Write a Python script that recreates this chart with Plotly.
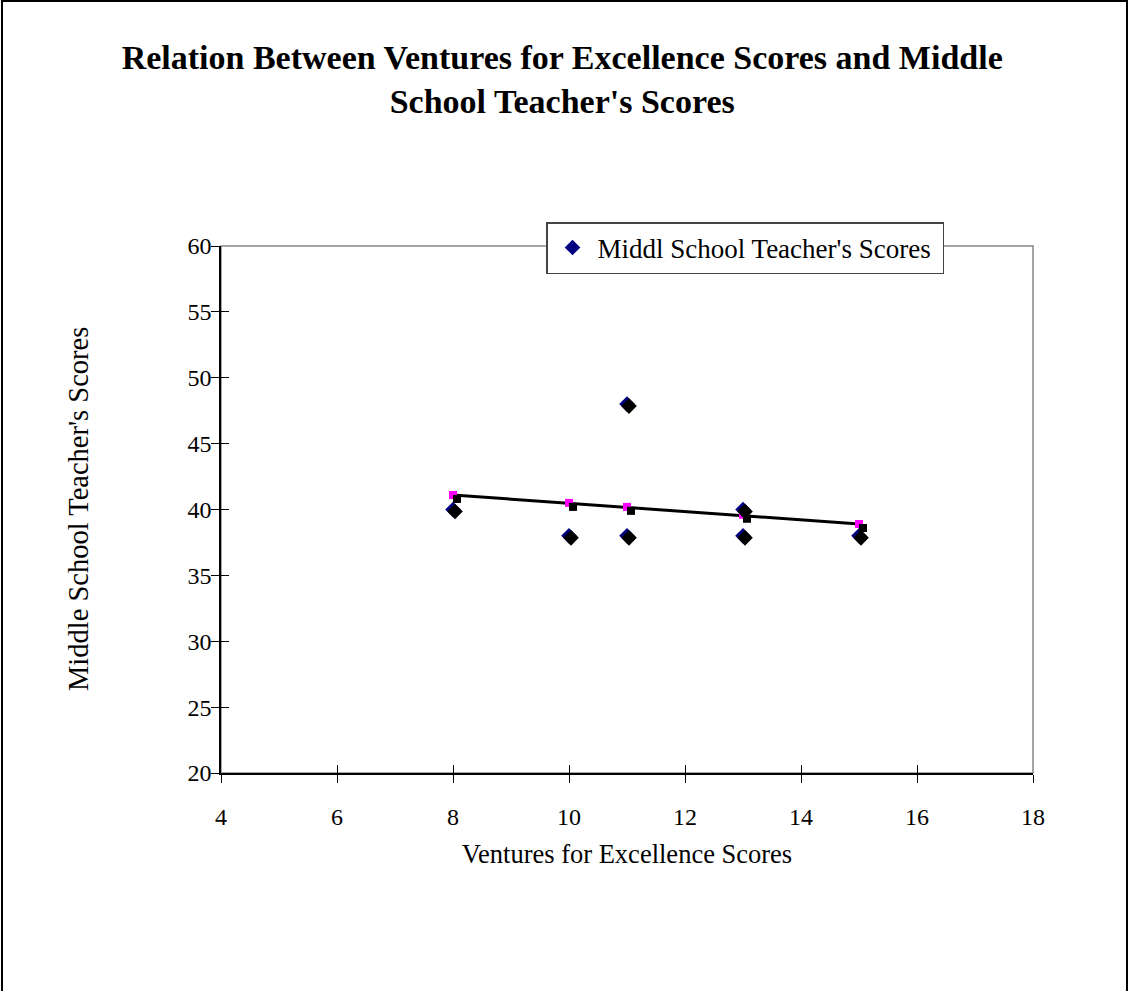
import plotly.graph_objects as go

# ---- data ----
ventures_scores = [8, 10, 11, 11, 13, 13, 15]
teacher_scores = [40, 38, 38, 48, 40, 38, 38]
predicted_x = [8, 10, 11, 13, 15]
predicted_y = [41.1, 40.5, 40.2, 39.6, 38.9]
trend_x = [8, 15]
trend_y = [41.1, 38.9]
x_ticks = [4, 6, 8, 10, 12, 14, 16, 18]
y_ticks = [20, 25, 30, 35, 40, 45, 50, 55, 60]

W, H = 1129, 991
L, R, T, B = 221, 1033, 246, 773
pw, ph = R - L, B - T
XR = [4, 18]
YR = [20, 60]
xpx = (XR[1] - XR[0]) / pw
ypx = (YR[1] - YR[0]) / ph

FONT = "Liberation Serif, Times New Roman, serif"

fig = go.Figure()

# shadows on shifted axes (offset a few pixels right/down)
fig.add_trace(go.Scatter(x=predicted_x, y=predicted_y, mode="markers",
                         marker=dict(symbol="square", size=8, color="black"),
                         xaxis="x3", yaxis="y3", showlegend=False, hoverinfo="skip"))
fig.add_trace(go.Scatter(x=ventures_scores, y=teacher_scores, mode="markers",
                         marker=dict(symbol="diamond", size=12, color="black"),
                         xaxis="x4", yaxis="y4", showlegend=False, hoverinfo="skip"))

fig.add_trace(go.Scatter(x=trend_x, y=trend_y, mode="lines",
                         line=dict(color="black", width=3), showlegend=False))
fig.add_trace(go.Scatter(x=predicted_x, y=predicted_y, mode="markers",
                         marker=dict(symbol="square", size=8, color="#FF00FF"),
                         showlegend=False))
fig.add_trace(go.Scatter(x=ventures_scores, y=teacher_scores, mode="markers",
                         name="Middl School Teacher's Scores\u00a0",
                         marker=dict(symbol="diamond", size=12, color="#000080")))

axis_common = dict(showgrid=False, zeroline=False, linecolor="black", linewidth=1.5,
                   ticks="outside", ticklen=8, tickwidth=1, tickcolor="black",
                   tickfont=dict(family=FONT, size=24, color="black"))

fig.update_layout(
    width=W, height=H,
    margin=dict(l=L, r=W - R, t=T, b=H - B, pad=0),
    paper_bgcolor="white", plot_bgcolor="white",
    title=dict(text="<b>Relation Between Ventures for Excellence Scores and Middle<br>School Teacher's Scores</b>",
               x=0.498, xanchor="center", y=1 - 69 / H, yanchor="middle",
               font=dict(family=FONT, size=34, color="black")),
    xaxis=dict(range=XR, tickvals=x_ticks, ticklabelstandoff=13, **axis_common,
               title=dict(text="Ventures for Excellence Scores", standoff=16,
                          font=dict(family=FONT, size=26.5, color="black"))),
    yaxis=dict(range=YR, tickvals=y_ticks, ticklabelstandoff=-5, **axis_common),
    xaxis2=dict(range=XR, overlaying="x", tickvals=x_ticks, ticks="inside", ticklen=8,
                tickcolor="black", showticklabels=False, showgrid=False, zeroline=False,
                showline=False),
    yaxis2=dict(range=YR, overlaying="y", tickvals=y_ticks, ticks="inside", ticklen=8,
                tickcolor="black", showticklabels=False, showgrid=False, zeroline=False,
                showline=False),
    xaxis3=dict(range=[XR[0] - 4 * xpx, XR[1] - 4 * xpx], overlaying="x", visible=False),
    yaxis3=dict(range=[YR[0] + 4 * ypx, YR[1] + 4 * ypx], overlaying="y", visible=False),
    xaxis4=dict(range=[XR[0] - 2 * xpx, XR[1] - 2 * xpx], overlaying="x", visible=False),
    yaxis4=dict(range=[YR[0] + 2 * ypx, YR[1] + 2 * ypx], overlaying="y", visible=False),
    legend=dict(x=(546 - L) / pw, xanchor="left", y=(B - 222) / ph, yanchor="top",
                bgcolor="white", bordercolor="#444", borderwidth=1.5, itemwidth=40,
                font=dict(family=FONT, size=27, color="black")),
    showlegend=True,
)

fig.add_annotation(text="Middle School Teacher's Scores", textangle=-90,
                   xref="paper", yref="paper", x=(78 - L) / pw, y=(B - 509) / ph,
                   xanchor="center", yanchor="middle", showarrow=False,
                   font=dict(family=FONT, size=28.5, color="black"))

# invisible trace to activate the inside-tick overlay axes
fig.add_trace(go.Scatter(x=[None], y=[None], xaxis="x2", yaxis="y2", showlegend=False))

# grey right/top plot-area border
fig.add_shape(type="rect", xref="paper", yref="paper", x0=0, y0=0, x1=1, y1=1,
              line=dict(color="#888", width=1.5), layer="below")
# outer chart frame
fig.add_shape(type="rect", xref="paper", yref="paper",
              x0=(2 - L) / pw, x1=(W - 2 - L) / pw, y0=-0.6, y1=(B - 1) / ph,
              line=dict(color="black", width=2))

fig.write_html("out.html", config={"displayModeBar": False},
               post_script="document.body.style.margin='0px';")
